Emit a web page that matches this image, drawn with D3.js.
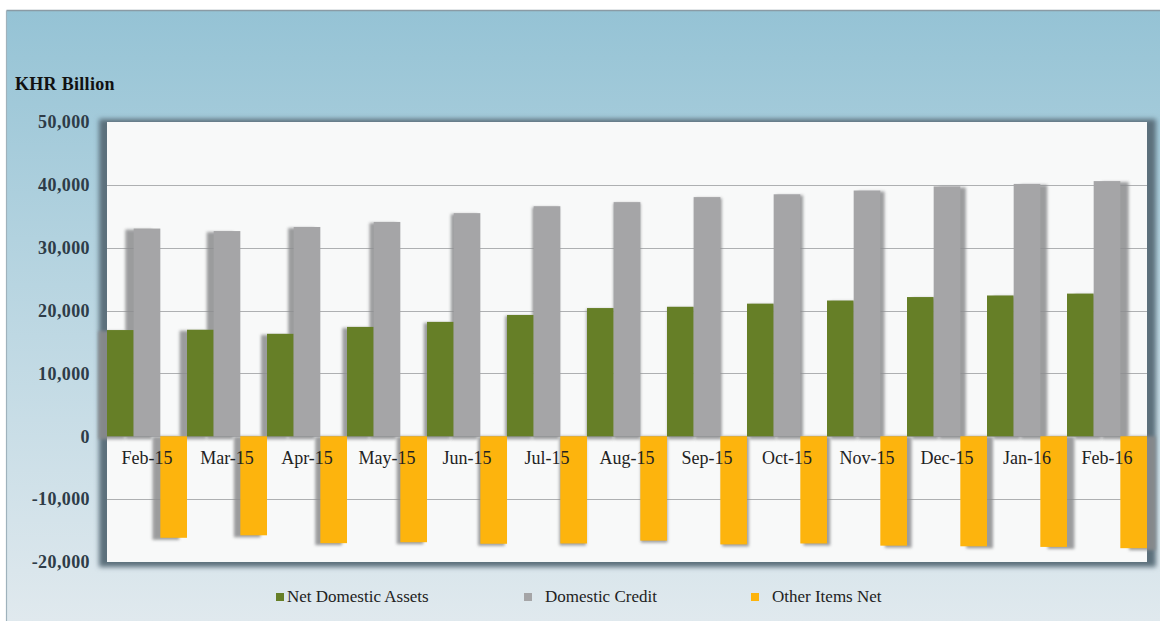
<!DOCTYPE html>
<html>
<head>
<meta charset="utf-8">
<script src="https://cdn.jsdelivr.net/npm/d3@7"></script>
<style>
  html, body { margin: 0; padding: 0; background: #ffffff; }
  svg { display: block; }
  text { font-family: "Liberation Serif", "Times New Roman", serif; }
</style>
</head>
<body>
<svg id="chart" width="1160" height="621"></svg>
<script>
// ---- data ----
const categories = ["Feb-15","Mar-15","Apr-15","May-15","Jun-15","Jul-15","Aug-15","Sep-15","Oct-15","Nov-15","Dec-15","Jan-16","Feb-16"];
const seriesNames = ["Net Domestic Assets","Domestic Credit","Other Items Net"];
const netDomesticAssets = [16900, 16950, 16300, 17400, 18200, 19300, 20400, 20600, 21100, 21600, 22150, 22400, 22700];
const domesticCredit    = [33050, 32650, 33300, 34100, 35500, 36600, 37250, 38050, 38500, 39100, 39750, 40150, 40600];
const otherItemsNet     = [-16150, -15750, -17000, -16850, -17100, -17050, -16600, -17200, -17050, -17400, -17500, -17600, -17800];
const yTicks = [-20000, -10000, 0, 10000, 20000, 30000, 40000, 50000];
const colors = ["#667f27", "#a5a5a7", "#fdb40d"];

const seriesValues = [netDomesticAssets, domesticCredit, otherItemsNet];

const svg = d3.select("#chart");
const W = 1160, H = 621;
const plot = { left: 107, right: 1147, top: 122, bottom: 562 };

const defs = svg.append("defs");
const bg = defs.append("linearGradient").attr("id", "bgGrad").attr("x1", 0).attr("y1", 0).attr("x2", 0).attr("y2", 1);
bg.append("stop").attr("offset", "0%").attr("stop-color", "#95c3d5");
bg.append("stop").attr("offset", "45%").attr("stop-color", "#b8d5e1");
bg.append("stop").attr("offset", "100%").attr("stop-color", "#e0e9ee");

defs.append("filter").attr("id", "frameBlur").attr("x", "-5%").attr("y", "-5%").attr("width", "110%").attr("height", "110%")
  .append("feGaussianBlur").attr("stdDeviation", 2.5);
defs.append("filter").attr("id", "barBlur").attr("x", "-50%").attr("y", "-10%").attr("width", "200%").attr("height", "120%")
  .append("feGaussianBlur").attr("stdDeviation", 1.6);

// outer background and border
svg.append("rect").attr("x", 7).attr("y", 11).attr("width", W - 7).attr("height", H - 11).attr("fill", "url(#bgGrad)");
svg.append("line").attr("x1", 6.5).attr("x2", W).attr("y1", 10.5).attr("y2", 10.5).attr("stroke", "#8a9ba5").attr("stroke-width", 1.5);
svg.append("line").attr("x1", 6.5).attr("x2", 6.5).attr("y1", 10.5).attr("y2", H).attr("stroke", "#9fb2bc").attr("stroke-width", 1.2);

// plot frame shadow and area
svg.append("rect").attr("x", plot.left - 8).attr("y", plot.top - 3)
  .attr("width", plot.right - plot.left + 17).attr("height", plot.bottom - plot.top + 8)
  .attr("fill", "#5c707b").attr("filter", "url(#frameBlur)");
svg.append("rect").attr("x", plot.left).attr("y", plot.top)
  .attr("width", plot.right - plot.left).attr("height", plot.bottom - plot.top)
  .attr("fill", "#f8f9f9");

// scales
const y = d3.scaleLinear().domain([-20000, 50000]).range([plot.bottom, plot.top]);
const x0 = d3.scaleBand().domain(categories).range([plot.left, plot.right]).padding(0);
const x1 = d3.scaleBand().domain(seriesNames).range([0, x0.bandwidth()]).padding(0);

// gridlines
svg.append("g").selectAll("line")
  .data(yTicks.filter(t => t > -20000 && t < 50000))
  .join("line")
  .attr("x1", plot.left).attr("x2", plot.right)
  .attr("y1", d => Math.round(y(d)) + 0.5).attr("y2", d => Math.round(y(d)) + 0.5)
  .attr("stroke", "#aeb0b2").attr("stroke-width", 1);

// y axis labels
const fmt = d3.format(",");
const yAxis = d3.axisLeft(y).tickValues(yTicks).tickSize(0).tickPadding(0)
  .tickFormat(d => fmt(d).replace("\u2212", "-"));
const gy = svg.append("g").attr("transform", `translate(90,0)`).call(yAxis);
gy.select(".domain").remove();
gy.selectAll("text").attr("font-family", "Liberation Serif, serif").attr("font-size", 18)
  .attr("fill", "#2e3c48").attr("font-weight", "bold").attr("letter-spacing", 0.4);

// bar data
const bars = [];
categories.forEach((c, i) => {
  seriesNames.forEach((s, j) => {
    bars.push({ cat: c, series: s, value: seriesValues[j][i], color: colors[j] });
  });
});
const shadowDx = d3.scaleLinear().domain([plot.left, plot.right]).range([-9, 9]);

const barX = d => x0(d.cat) + x1(d.series);
const barW = x1.bandwidth();

// shadows
svg.append("g").selectAll("rect").data(bars).join("rect")
  .attr("x", d => barX(d) + shadowDx(barX(d) + barW / 2))
  .attr("y", d => Math.min(y(d.value), y(0)) + (d.value < 0 ? 0 : 1))
  .attr("width", barW)
  .attr("height", d => Math.abs(y(d.value) - y(0)) + 2)
  .attr("fill", "#8b8c8e").attr("opacity", 0.85)
  .attr("filter", "url(#barBlur)");

// bars
svg.append("g").selectAll("rect").data(bars).join("rect")
  .attr("x", d => barX(d))
  .attr("y", d => Math.min(y(d.value), y(0)))
  .attr("width", barW)
  .attr("height", d => Math.abs(y(d.value) - y(0)))
  .attr("fill", d => d.color);

// category labels
svg.append("g").selectAll("text").data(categories).join("text")
  .attr("x", d => x0(d) + x0.bandwidth() / 2)
  .attr("y", 464)
  .attr("text-anchor", "middle")
  .attr("font-size", 18)
  .attr("fill", "#222222")
  .text(d => d);

// title
svg.append("text").attr("x", 15).attr("y", 90)
  .attr("font-size", 18).attr("font-weight", "bold").attr("fill", "#111")
  .attr("letter-spacing", 0.3)
  .text("KHR Billion");

// legend
const legendItems = [
  { name: seriesNames[0], color: colors[0], sx: 276, tx: 287 },
  { name: seriesNames[1], color: colors[1], sx: 524, tx: 545 },
  { name: seriesNames[2], color: colors[2], sx: 751, tx: 772 }
];
const lg = svg.append("g");
lg.selectAll("rect").data(legendItems).join("rect")
  .attr("x", d => d.sx).attr("y", 593).attr("width", 8).attr("height", 8)
  .attr("fill", d => d.color);
lg.selectAll("text").data(legendItems).join("text")
  .attr("x", d => d.tx).attr("y", 602)
  .attr("font-size", 17).attr("fill", "#222")
  .text(d => d.name);
</script>
</body>
</html>
